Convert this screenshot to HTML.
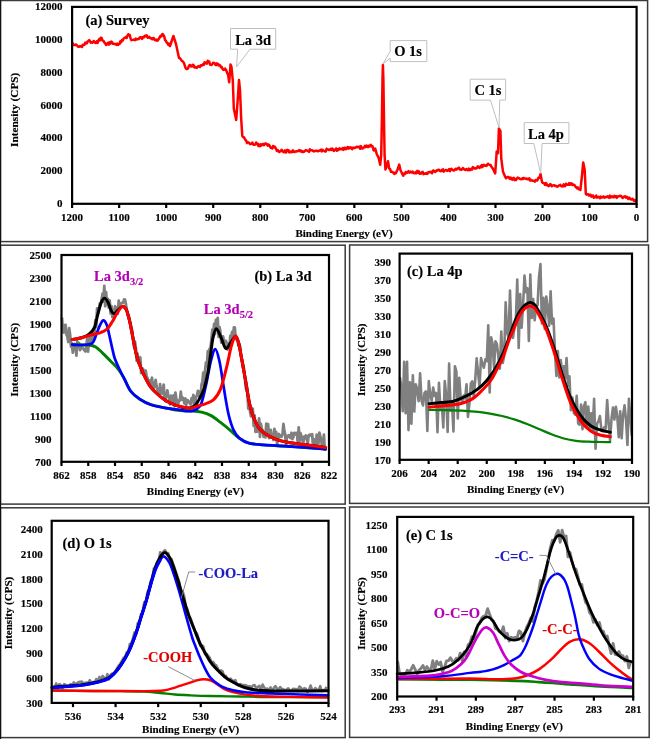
<!DOCTYPE html>
<html><head><meta charset="utf-8"><title>XPS spectra</title>
<style>html,body{margin:0;padding:0;background:#fff;width:650px;height:739px;overflow:hidden}svg{display:block;filter:blur(0.3px)}</style>
</head><body>
<svg width="650" height="739" viewBox="0 0 650 739" font-family="Liberation Serif, serif" font-weight="bold">
<rect width="650" height="739" fill="#fff"/>
<rect x="0.5" y="0.5" width="647.1" height="241.1" fill="none" stroke="#3a3a3a" stroke-width="1.5"/>
<rect x="0.5" y="245.2" width="344.7" height="258.9" fill="none" stroke="#3a3a3a" stroke-width="1.5"/>
<rect x="349.6" y="245" width="298.9" height="258.4" fill="none" stroke="#3a3a3a" stroke-width="1.5"/>
<rect x="0.5" y="507.8" width="344.7" height="229.8" fill="none" stroke="#3a3a3a" stroke-width="1.5"/>
<rect x="349.6" y="507" width="299.6" height="230.4" fill="none" stroke="#3a3a3a" stroke-width="1.5"/>
<line x1="0.5" y1="0" x2="0.5" y2="739" stroke="#111" stroke-width="1.2" />
<text x="62.6" y="207" font-size="11" text-anchor="end" fill="#000" stroke="#000" stroke-width="0.15" >0</text>
<text x="62.6" y="174.18" font-size="11" text-anchor="end" fill="#000" stroke="#000" stroke-width="0.15" >2000</text>
<text x="62.6" y="141.37" font-size="11" text-anchor="end" fill="#000" stroke="#000" stroke-width="0.15" >4000</text>
<text x="62.6" y="108.55" font-size="11" text-anchor="end" fill="#000" stroke="#000" stroke-width="0.15" >6000</text>
<text x="62.6" y="75.73" font-size="11" text-anchor="end" fill="#000" stroke="#000" stroke-width="0.15" >8000</text>
<text x="62.6" y="42.92" font-size="11" text-anchor="end" fill="#000" stroke="#000" stroke-width="0.15" >10000</text>
<text x="62.6" y="10.1" font-size="11" text-anchor="end" fill="#000" stroke="#000" stroke-width="0.15" >12000</text>
<line x1="72.1" y1="203.8" x2="72.1" y2="208" stroke="#000" stroke-width="2.2" />
<text x="72.1" y="220.8" font-size="11" text-anchor="middle" fill="#000" stroke="#000" stroke-width="0.15" >1200</text>
<line x1="119.14" y1="203.8" x2="119.14" y2="208" stroke="#000" stroke-width="2.2" />
<text x="119.14" y="220.8" font-size="11" text-anchor="middle" fill="#000" stroke="#000" stroke-width="0.15" >1100</text>
<line x1="166.18" y1="203.8" x2="166.18" y2="208" stroke="#000" stroke-width="2.2" />
<text x="166.18" y="220.8" font-size="11" text-anchor="middle" fill="#000" stroke="#000" stroke-width="0.15" >1000</text>
<line x1="213.22" y1="203.8" x2="213.22" y2="208" stroke="#000" stroke-width="2.2" />
<text x="213.22" y="220.8" font-size="11" text-anchor="middle" fill="#000" stroke="#000" stroke-width="0.15" >900</text>
<line x1="260.27" y1="203.8" x2="260.27" y2="208" stroke="#000" stroke-width="2.2" />
<text x="260.27" y="220.8" font-size="11" text-anchor="middle" fill="#000" stroke="#000" stroke-width="0.15" >800</text>
<line x1="307.31" y1="203.8" x2="307.31" y2="208" stroke="#000" stroke-width="2.2" />
<text x="307.31" y="220.8" font-size="11" text-anchor="middle" fill="#000" stroke="#000" stroke-width="0.15" >700</text>
<line x1="354.35" y1="203.8" x2="354.35" y2="208" stroke="#000" stroke-width="2.2" />
<text x="354.35" y="220.8" font-size="11" text-anchor="middle" fill="#000" stroke="#000" stroke-width="0.15" >600</text>
<line x1="401.39" y1="203.8" x2="401.39" y2="208" stroke="#000" stroke-width="2.2" />
<text x="401.39" y="220.8" font-size="11" text-anchor="middle" fill="#000" stroke="#000" stroke-width="0.15" >500</text>
<line x1="448.43" y1="203.8" x2="448.43" y2="208" stroke="#000" stroke-width="2.2" />
<text x="448.43" y="220.8" font-size="11" text-anchor="middle" fill="#000" stroke="#000" stroke-width="0.15" >400</text>
<line x1="495.48" y1="203.8" x2="495.48" y2="208" stroke="#000" stroke-width="2.2" />
<text x="495.48" y="220.8" font-size="11" text-anchor="middle" fill="#000" stroke="#000" stroke-width="0.15" >300</text>
<line x1="542.52" y1="203.8" x2="542.52" y2="208" stroke="#000" stroke-width="2.2" />
<text x="542.52" y="220.8" font-size="11" text-anchor="middle" fill="#000" stroke="#000" stroke-width="0.15" >200</text>
<line x1="589.56" y1="203.8" x2="589.56" y2="208" stroke="#000" stroke-width="2.2" />
<text x="589.56" y="220.8" font-size="11" text-anchor="middle" fill="#000" stroke="#000" stroke-width="0.15" >100</text>
<line x1="636.6" y1="203.8" x2="636.6" y2="208" stroke="#000" stroke-width="2.2" />
<text x="636.6" y="220.8" font-size="11" text-anchor="middle" fill="#000" stroke="#000" stroke-width="0.15" >0</text>
<text x="344" y="236.6" font-size="11" text-anchor="middle" fill="#000" stroke="#000" stroke-width="0.15" >Binding Energy (eV)</text>
<text transform="translate(18.2,109.8) rotate(-90)" x="0" y="0" font-size="11.3" text-anchor="middle" fill="#000" stroke="#000" stroke-width="0.15">Intensity (CPS)</text>
<path d="M72,44 L72.83,43.31 L73.67,45.03 L74.5,45.13 L75.33,44.94 L76.17,44.45 L77,45.5 L77.83,46.57 L78.67,46.86 L79.5,46.28 L80.33,46.51 L81.17,46.01 L82,47 L82.8,44.81 L83.6,45.04 L84.4,44.84 L85.2,42.59 L86,43 L86.8,43.42 L87.6,41.45 L88.4,41.05 L89.2,40.12 L90,41 L90.75,42.64 L91.5,42.17 L92.25,42.8 L93,42.32 L93.75,40.95 L94.5,42.02 L95.25,42.74 L96,43 L96.8,41.21 L97.6,42.84 L98.4,40.49 L99.2,39.18 L100,40.32 L100.8,37.66 L101.6,38 L102.48,40.6 L103.36,40.67 L104.24,42.35 L105.12,43.16 L106,45 L106.75,44.58 L107.5,43.37 L108.25,42.58 L109,44.52 L109.75,42.38 L110.5,43.53 L111.25,41.56 L112,42 L112.75,43.69 L113.5,43.85 L114.25,43.84 L115,44.24 L115.75,44.1 L116.5,44.89 L117.25,43.57 L118,45 L118.8,43.93 L119.6,43.92 L120.4,41.16 L121.2,42.18 L122,40 L122.78,40.53 L123.56,38.64 L124.33,37.96 L125.11,37.64 L125.89,36.9 L126.67,38.05 L127.44,35.79 L128.22,34.23 L129,35 L129.75,35.11 L130.5,38.11 L131.25,40.13 L132,40 L132.75,39.86 L133.5,39.73 L134.25,39.77 L135,40.19 L135.75,38.6 L136.5,39.55 L137.25,39.28 L138,39 L138.8,39.08 L139.6,37.59 L140.4,37.3 L141.2,37.53 L142,38.9 L142.8,37.01 L143.6,37.45 L144.4,36.38 L145.2,35.55 L146,36.4 L146.8,35.38 L147.6,37.68 L148.4,37.78 L149.2,36.85 L150,37.91 L150.8,38.09 L151.6,38.92 L152.4,39.28 L153.2,37.94 L154,38.4 L154.8,40.09 L155.6,40.33 L156.4,39.61 L157.2,40.75 L158,40 L158.88,38.77 L159.76,37.25 L160.64,35.69 L161.52,36.25 L162.4,34 L163.3,34.8 L164.2,36.29 L165.1,40.1 L166,41 L166.8,42.77 L167.6,42.95 L168.4,44.94 L169.2,43.75 L170,46 L173.4,36 L176,44 L179,58 L179.75,58.07 L180.5,58.91 L181.25,60.02 L182,61 L182.83,61.41 L183.67,62.46 L184.5,64.55 L185.33,67.45 L186.17,69.02 L187,69 L187.75,68.69 L188.5,66.94 L189.25,65.31 L190,65 L190.75,66.53 L191.5,65.57 L192.25,66.39 L193,64.68 L193.75,65.44 L194.5,67.45 L195.25,67.58 L196,67 L196.79,67.87 L197.57,66.88 L198.36,66.19 L199.15,66.43 L199.94,66.98 L200.73,65.26 L201.51,65.7 L202.3,65.4 L203.08,64.17 L203.85,64.95 L204.62,62.23 L205.4,63 L206.16,63.22 L206.92,63.67 L207.68,60.77 L208.44,62.06 L209.2,61.5 L210,64.6 L210.77,64.74 L211.53,65.05 L212.3,64.04 L213.07,62.85 L213.83,63 L214.6,63 L215.38,64.76 L216.16,65.1 L216.94,63.41 L217.72,63.79 L218.5,65.4 L219.26,64.88 L220.02,65.31 L220.78,67.11 L221.54,66.87 L222.3,68.5 L223.23,69.9 L224.15,69.68 L225.07,68.58 L226,70 L228.2,75.4 L229.2,82.3 L230.5,64.6 L231.5,67 L232.8,80.8 L233.8,108.5 L236.2,120 L238,96 L239,80 L240,90 L241.2,119 L242.3,136 L243.07,136.94 L243.83,137.17 L244.6,138.5 L245.4,139.98 L246.2,140.71 L247,143 L247.75,142.2 L248.5,142.38 L249.25,143.06 L250,144.12 L250.75,143.81 L251.5,143.8 L252.28,142.53 L253.05,144.39 L253.82,144.85 L254.6,144.57 L255.38,144.61 L256.15,142.42 L256.93,143.7 L257.7,143.8 L258.5,146 L259.26,144.5 L260.02,146.18 L260.78,144.25 L261.54,145.47 L262.3,144.6 L263.07,143.91 L263.85,145.15 L264.62,144.08 L265.4,143.32 L266.18,144.29 L266.95,144.07 L267.73,145.72 L268.5,144.6 L269.27,145.06 L270.03,146.68 L270.8,147.7 L271.56,147.62 L272.32,148.52 L273.08,145.92 L273.84,147.1 L274.6,146.6 L275.38,147.6 L276.16,149.22 L276.94,150.85 L277.72,149.99 L278.5,151.5 L279.26,151.92 L280.02,151.29 L280.78,151.25 L281.54,149.72 L282.3,150.8 L283.07,151.75 L283.84,152.28 L284.61,150.6 L285.38,150.57 L286.15,152.53 L286.92,150.12 L287.69,150.1 L288.46,150.17 L289.23,152.31 L290,151.5 L290.76,152.27 L291.52,151.43 L292.28,151.96 L293.04,150.32 L293.8,151.7 L294.6,152.06 L295.4,151.45 L296.2,151.61 L297,151.21 L297.8,151.2 L298.6,150.66 L299.4,150.12 L300.2,151.15 L301,150.58 L301.8,151.82 L302.6,151.2 L303.4,152.01 L304.2,151.66 L305,150.83 L305.8,150.13 L306.6,150.47 L307.4,150.67 L308.2,151 L309,151.84 L309.8,149.3 L310.6,150.32 L311.4,150.3 L312.2,150.28 L313,150.91 L313.8,151.39 L314.6,151.08 L315.4,150.66 L316.2,151.02 L317,150.77 L317.8,151.3 L318.6,150.86 L319.4,150.81 L320.2,150.3 L321,149.56 L321.8,151.41 L322.6,149.9 L323.4,150.51 L324.2,151.07 L325,151.43 L325.8,151.48 L326.6,148.7 L327.4,149.53 L328.2,149.5 L329,150 L329.8,149.64 L330.6,148.9 L331.4,149.99 L332.2,148.6 L333,149.17 L333.8,150.91 L334.6,150.3 L335.4,149.46 L336.2,148.41 L337,150.73 L337.8,149.4 L338.6,149.86 L339.4,148.36 L340.2,148.61 L341,149.36 L341.8,149.36 L342.6,148.08 L343.4,149.9 L344.2,148.03 L345,147.73 L345.8,149.28 L346.6,148.2 L347.4,147.18 L348.2,148.62 L349,147.22 L349.8,148.29 L350.6,147.35 L351.4,147.59 L352.2,149.12 L353,147.74 L353.8,147.61 L354.6,148.07 L355.4,147.7 L356.2,147.05 L357,146.72 L357.8,147.27 L358.6,146.92 L359.4,146.65 L360.2,148.77 L361,146.14 L361.8,148.28 L362.6,148.59 L363.4,147.91 L364.2,147.3 L365.03,145.8 L365.86,146.99 L366.69,145.54 L367.51,146.97 L368.34,147.08 L369.17,145.63 L370,146.2 L370.83,144.82 L371.67,146.32 L372.5,146.2 L373.7,150.5 L375.2,148.6 L376.8,154.2 L378.6,157.8 L380.2,164.8 L381.2,155 L381.9,120 L382.5,80 L382.9,65 L383.4,80 L384,120 L384.6,155 L385.4,169.5 L386.4,167 L388,161.2 L389.2,168.5 L390.1,169.01 L391,171.8 L391.9,171.67 L392.8,172.6 L393.55,172.62 L394.3,174 L395.05,172.69 L395.8,173.2 L397.6,169.5 L399.2,164.6 L400.6,170.5 L403.2,175.7 L404.03,173.44 L404.87,174.05 L405.7,172 L406.62,173.05 L407.55,172.38 L408.47,171.19 L409.4,172.6 L410.2,171.65 L411,172.18 L411.8,172.52 L412.6,171.53 L413.4,173.07 L414.2,173.11 L415,173.27 L415.8,172 L416.57,173.2 L417.33,170.9 L418.1,172.6 L418.87,171.33 L419.63,173.74 L420.4,173.44 L421.17,173.6 L421.93,172.13 L422.7,171.89 L423.47,174.13 L424.23,173.67 L425,173.5 L425.79,173.68 L426.57,173.1 L427.36,173.87 L428.14,172.42 L428.93,172.07 L429.71,172.15 L430.5,171.83 L431.29,172.6 L432.07,173.18 L432.86,170.73 L433.64,170.56 L434.43,171.65 L435.21,171.96 L436,171.3 L436.78,170.34 L437.57,170.47 L438.35,169.79 L439.13,169.64 L439.92,170.83 L440.7,171.26 L441.48,171.09 L442.27,169.61 L443.05,169.37 L443.83,171.59 L444.62,170.4 L445.4,170.2 L446.17,169.94 L446.93,170.73 L447.7,170.84 L448.47,170.27 L449.23,169.02 L450,171.12 L450.77,169.4 L451.53,168.91 L452.3,169.79 L453.07,170.29 L453.83,170.56 L454.6,170.2 L455.53,168.69 L456.47,169.59 L457.4,168.4 L458.2,168.45 L459,167.58 L459.8,169.57 L460.6,169.51 L461.4,169.85 L462.2,169.28 L463,168.05 L463.8,168.9 L464.62,169.68 L465.44,170.03 L466.27,168.99 L467.09,170.04 L467.91,170.22 L468.73,168.59 L469.56,170.14 L470.38,170.12 L471.2,168.9 L472.02,169.52 L472.84,167.13 L473.67,167.89 L474.49,168.42 L475.31,168.2 L476.13,168.42 L476.96,167.91 L477.78,166.35 L478.6,167.1 L479.39,167.99 L480.17,166.57 L480.96,167.23 L481.74,165.02 L482.53,166.92 L483.31,165.37 L484.1,164.9 L484.9,165.67 L485.7,165.57 L486.5,165.97 L487.3,164.51 L488.1,163.73 L488.9,164.64 L489.7,164.9 L490.63,165.03 L491.57,167.08 L492.5,168 L495.2,173.5 L496.7,151.4 L498,153.2 L498.9,128.3 L500.4,131 L501.3,158.8 L503,171.7 L505.4,177.2 L506.16,178.33 L506.92,177.31 L507.69,176.92 L508.45,176.88 L509.21,178.23 L509.98,178.93 L510.74,177.62 L511.5,179.2 L512.26,179.6 L513.03,178.26 L513.79,177.91 L514.56,180.14 L515.32,178.94 L516.09,179.92 L516.85,178.79 L517.61,177.63 L518.38,177.89 L519.14,178.35 L519.91,178.89 L520.67,179.19 L521.44,179.07 L522.2,178.3 L522.98,178.86 L523.76,177.88 L524.55,178.51 L525.33,178.5 L526.11,178.95 L526.89,178.46 L527.67,179.36 L528.45,179.28 L529.24,178.23 L530.02,180.57 L530.8,179.8 L531.61,180.13 L532.42,180.82 L533.24,180.72 L534.05,180.8 L534.86,181.62 L535.67,179.98 L536.49,180.11 L537.3,180.5 L538.4,177.71 L539.5,177.7 L540.5,174 L542,182 L542.75,182.86 L543.5,183.03 L544.25,183.41 L545,184.99 L545.75,183.15 L546.5,183.64 L547.25,185.46 L548,185.2 L548.77,186.11 L549.54,185.22 L550.31,184.06 L551.09,184.98 L551.86,186.29 L552.63,185.41 L553.4,185.34 L554.17,185.18 L554.94,185.88 L555.71,185.83 L556.49,186.13 L557.26,186.65 L558.03,186.37 L558.8,185.7 L559.59,185.27 L560.38,184.84 L561.17,186.24 L561.96,186.19 L562.75,186.49 L563.55,184.37 L564.34,186.1 L565.13,186.14 L565.92,183.78 L566.71,184.34 L567.5,184.8 L568.3,184.85 L569.1,183.16 L569.9,184.75 L570.7,183.5 L571.46,183.34 L572.21,185.01 L572.97,184.43 L573.73,184.71 L574.49,185.18 L575.24,186.49 L576,187 L576.88,188.2 L577.76,187.41 L578.64,189.32 L579.52,188.94 L580.4,190 L582.1,174.5 L583.2,162.6 L584.7,170 L585.8,193.8 L586.6,194.67 L587.4,194.33 L588.2,194.29 L589,195.6 L589.81,194.77 L590.62,194.71 L591.44,196.67 L592.25,196.06 L593.06,195.42 L593.88,197.72 L594.69,197.26 L595.5,197 L596.26,195.66 L597.02,197.63 L597.78,197.27 L598.54,196.84 L599.29,197 L600.05,198.29 L600.81,196.65 L601.57,197.38 L602.33,197.38 L603.09,196.62 L603.85,196.57 L604.61,197.71 L605.36,197.38 L606.12,196.88 L606.88,197.04 L607.64,196.23 L608.4,197 L609.15,197.81 L609.91,195.66 L610.66,197.4 L611.42,196.87 L612.17,196.22 L612.93,197.24 L613.68,197.23 L614.44,195.84 L615.19,196.97 L615.95,196.06 L616.71,197.84 L617.46,196.52 L618.22,196.52 L618.97,196.2 L619.73,195.73 L620.48,196.12 L621.24,196.02 L621.99,197.35 L622.75,197.97 L623.5,197 L624.31,196.42 L625.12,196.31 L625.94,197.7 L626.75,196.72 L627.56,197.73 L628.38,198.93 L629.19,197.57 L630,198.6 L630.8,199.58 L631.6,199.56 L632.4,198.71 L633.2,199.58 L634,201 L634.8,200.02 L635.6,200.75 L636.4,202" fill="none" stroke="#ff0000" stroke-width="2.5" stroke-linejoin="round"/>
<path d="M230.5,28.5 L275.7,28.5 L275.7,49.2 L250,49.2 L236.5,66.9 L237.7,49.2 L230.5,49.2 Z" fill="#fff" stroke="#c0c0c0" stroke-width="1"/>
<text x="235.2" y="44.6" font-size="14.5" text-anchor="start" fill="#000" stroke="#000" stroke-width="0.15" >La 3d</text>
<path d="M390.2,40.6 L426.8,40.6 L426.8,61.6 L390.2,61.6 L390.2,58.2 L382.8,64.1 L390.2,51.5 Z" fill="#fff" stroke="#c0c0c0" stroke-width="1"/>
<text x="394.2" y="55.8" font-size="14.5" text-anchor="start" fill="#000" stroke="#000" stroke-width="0.15" >O 1s</text>
<path d="M470.2,79.2 L505.6,79.2 L505.6,100.1 L499.7,100.1 L499.1,128.1 L490.5,100.1 L470.2,100.1 Z" fill="#fff" stroke="#c0c0c0" stroke-width="1"/>
<text x="474.4" y="94.9" font-size="14.5" text-anchor="start" fill="#000" stroke="#000" stroke-width="0.15" >C 1s</text>
<path d="M524.2,122.6 L568.9,122.6 L568.9,143.5 L542.1,143.5 L540.7,173.4 L533.8,143.5 L524.2,143.5 Z" fill="#fff" stroke="#c0c0c0" stroke-width="1"/>
<text x="528" y="138.7" font-size="14.5" text-anchor="start" fill="#000" stroke="#000" stroke-width="0.15" >La 4p</text>
<text x="85.5" y="24.8" font-size="14.5" text-anchor="start" fill="#000" stroke="#000" stroke-width="0.15" >(a) Survey</text>
<rect x="72.1" y="6.9" width="564.5" height="196.9" fill="none" stroke="#000" stroke-width="2.2"/>
<text x="51.4" y="465.6" font-size="11" text-anchor="end" fill="#000" stroke="#000" stroke-width="0.15" >700</text>
<text x="51.4" y="442.62" font-size="11" text-anchor="end" fill="#000" stroke="#000" stroke-width="0.15" >900</text>
<text x="51.4" y="419.64" font-size="11" text-anchor="end" fill="#000" stroke="#000" stroke-width="0.15" >1100</text>
<text x="51.4" y="396.67" font-size="11" text-anchor="end" fill="#000" stroke="#000" stroke-width="0.15" >1300</text>
<text x="51.4" y="373.69" font-size="11" text-anchor="end" fill="#000" stroke="#000" stroke-width="0.15" >1500</text>
<text x="51.4" y="350.71" font-size="11" text-anchor="end" fill="#000" stroke="#000" stroke-width="0.15" >1700</text>
<text x="51.4" y="327.73" font-size="11" text-anchor="end" fill="#000" stroke="#000" stroke-width="0.15" >1900</text>
<text x="51.4" y="304.76" font-size="11" text-anchor="end" fill="#000" stroke="#000" stroke-width="0.15" >2100</text>
<text x="51.4" y="281.78" font-size="11" text-anchor="end" fill="#000" stroke="#000" stroke-width="0.15" >2300</text>
<text x="51.4" y="258.8" font-size="11" text-anchor="end" fill="#000" stroke="#000" stroke-width="0.15" >2500</text>
<line x1="61.5" y1="461.8" x2="61.5" y2="466" stroke="#000" stroke-width="2.2" />
<text x="61.5" y="478.8" font-size="11" text-anchor="middle" fill="#000" stroke="#000" stroke-width="0.15" >862</text>
<line x1="88.25" y1="461.8" x2="88.25" y2="466" stroke="#000" stroke-width="2.2" />
<text x="88.25" y="478.8" font-size="11" text-anchor="middle" fill="#000" stroke="#000" stroke-width="0.15" >858</text>
<line x1="115" y1="461.8" x2="115" y2="466" stroke="#000" stroke-width="2.2" />
<text x="115" y="478.8" font-size="11" text-anchor="middle" fill="#000" stroke="#000" stroke-width="0.15" >854</text>
<line x1="141.75" y1="461.8" x2="141.75" y2="466" stroke="#000" stroke-width="2.2" />
<text x="141.75" y="478.8" font-size="11" text-anchor="middle" fill="#000" stroke="#000" stroke-width="0.15" >850</text>
<line x1="168.5" y1="461.8" x2="168.5" y2="466" stroke="#000" stroke-width="2.2" />
<text x="168.5" y="478.8" font-size="11" text-anchor="middle" fill="#000" stroke="#000" stroke-width="0.15" >846</text>
<line x1="195.25" y1="461.8" x2="195.25" y2="466" stroke="#000" stroke-width="2.2" />
<text x="195.25" y="478.8" font-size="11" text-anchor="middle" fill="#000" stroke="#000" stroke-width="0.15" >842</text>
<line x1="222" y1="461.8" x2="222" y2="466" stroke="#000" stroke-width="2.2" />
<text x="222" y="478.8" font-size="11" text-anchor="middle" fill="#000" stroke="#000" stroke-width="0.15" >838</text>
<line x1="248.75" y1="461.8" x2="248.75" y2="466" stroke="#000" stroke-width="2.2" />
<text x="248.75" y="478.8" font-size="11" text-anchor="middle" fill="#000" stroke="#000" stroke-width="0.15" >834</text>
<line x1="275.5" y1="461.8" x2="275.5" y2="466" stroke="#000" stroke-width="2.2" />
<text x="275.5" y="478.8" font-size="11" text-anchor="middle" fill="#000" stroke="#000" stroke-width="0.15" >830</text>
<line x1="302.25" y1="461.8" x2="302.25" y2="466" stroke="#000" stroke-width="2.2" />
<text x="302.25" y="478.8" font-size="11" text-anchor="middle" fill="#000" stroke="#000" stroke-width="0.15" >826</text>
<line x1="329" y1="461.8" x2="329" y2="466" stroke="#000" stroke-width="2.2" />
<text x="329" y="478.8" font-size="11" text-anchor="middle" fill="#000" stroke="#000" stroke-width="0.15" >822</text>
<text x="195.4" y="494.6" font-size="11" text-anchor="middle" fill="#000" stroke="#000" stroke-width="0.15" >Binding Energy (eV)</text>
<text transform="translate(18.2,359.7) rotate(-90)" x="0" y="0" font-size="11.2" text-anchor="middle" fill="#000" stroke="#000" stroke-width="0.15">Intensity (CPS)</text>
<path d="M62,317.55 L62.9,331.48 L63.8,332.49 L64.7,325.08 L65.6,324.83 L66.5,334.75 L67.4,336.75 L68.3,341.99 L69.2,328.2 L70.1,334.61 L71,346.62 L71.9,343.11 L72.8,352.7 L73.7,347.53 L74.6,343.9 L75.5,345.3 L76.4,355.69 L77.3,341.47 L78.2,345.82 L79.1,343.06 L80,350.11 L80.9,348.04 L81.8,346.5 L82.7,348.27 L83.6,349.03 L84.5,350.43 L85.4,351.42 L86.3,346.37 L87.2,338.03 L88.1,351.63 L89,335.63 L89.9,345.43 L90.8,333.96 L91.7,342.51 L92.6,332.74 L93.5,336.68 L94.4,338.87 L95.3,320.03 L96.2,326.88 L97.1,308.45 L98,313.79 L98.9,310.71 L99.8,303.32 L100.7,304.18 L101.6,299.6 L102.5,293.73 L103.4,301.6 L104.3,286 L105.2,306.28 L106.1,292.09 L107,304.77 L107.9,298.98 L108.8,307.7 L109.7,300.33 L110.6,313.52 L111.5,306.06 L112.4,317.09 L113.3,311.47 L114.2,311.4 L115.1,306.26 L116,313.78 L116.9,307.95 L117.8,313.76 L118.7,300.77 L119.6,308.21 L120.5,303.99 L121.4,303.28 L122.3,302.57 L123.2,302.66 L124.1,299.46 L125,299.64 L125.9,304.13 L126.8,309.63 L127.7,315.4 L128.6,315.35 L129.5,320.3 L130.4,322.53 L131.3,327.37 L132.2,330.3 L133.1,338.62 L134,346.73 L134.9,341.41 L135.8,347.58 L136.7,360.81 L137.6,353.65 L138.5,363.19 L139.4,362.75 L140.3,357.48 L141.2,373.2 L142.1,370.36 L143,368.69 L143.9,374.18 L144.8,371.92 L145.7,370.57 L146.6,376.28 L147.5,378.2 L148.4,382.43 L149.3,380.93 L150.2,380.34 L151.1,387.57 L152,377.62 L152.9,389.09 L153.8,387.78 L154.7,383.61 L155.6,379.97 L156.5,386.11 L157.4,389.85 L158.3,390.76 L159.2,395.68 L160.1,384.09 L161,393.23 L161.9,393.56 L162.8,390.82 L163.7,384.62 L164.6,399.99 L165.5,401.18 L166.4,395.95 L167.3,390.36 L168.2,395.11 L169.1,396.76 L170,404.32 L170.9,395.71 L171.8,397.89 L172.7,403.75 L173.6,395.3 L174.5,406.28 L175.4,392.54 L176.3,398.83 L177.2,402 L178.1,404.15 L179,400.41 L179.9,400.48 L180.8,391.75 L181.7,399.73 L182.6,397.64 L183.5,398.99 L184.4,403.55 L185.3,398.38 L186.2,405.22 L187.1,400.12 L188,400.38 L188.9,402.35 L189.8,403.02 L190.7,404.52 L191.6,398.19 L192.5,401.13 L193.4,394.85 L194.3,408.17 L195.2,402.35 L196.1,396.49 L197,395.69 L197.9,390.83 L198.8,396.14 L199.7,391.77 L200.6,397.56 L201.5,384.73 L202.4,381.51 L203.3,372.68 L204.2,385.26 L205.1,370.54 L206,362.44 L206.9,366.46 L207.8,351.21 L208.7,362.61 L209.6,348.57 L210.5,348.39 L211.4,339.66 L212.3,329.76 L213.2,336.77 L214.1,323.84 L215,334.13 L215.9,319.93 L216.8,328.34 L217.7,318 L218.6,336.81 L219.5,327.05 L220.4,331.76 L221.3,342.67 L222.2,341.11 L223.1,336.41 L224,341.68 L224.9,341.77 L225.8,340.81 L226.7,343.37 L227.6,349.61 L228.5,343.31 L229.4,348.85 L230.3,335.8 L231.2,338.3 L232.1,331.86 L233,335.55 L233.9,327.38 L234.8,327.48 L235.7,338.56 L236.6,339.76 L237.5,339.71 L238.4,345.59 L239.3,343.68 L240.2,346.68 L241.1,357.13 L242,359.95 L242.9,363.76 L243.8,367.73 L244.7,374.9 L245.6,386.56 L246.5,390.66 L247.4,393.35 L248.3,408.69 L249.2,402.58 L250.1,411.86 L251,416.37 L251.9,408.26 L252.8,408.78 L253.7,425.9 L254.6,415.4 L255.5,431.92 L256.4,423.31 L257.3,431.65 L258.2,429.12 L259.1,418.32 L260,436.86 L260.9,423.87 L261.8,429.09 L262.7,429.94 L263.6,436.76 L264.5,435.75 L265.4,437.37 L266.3,423.62 L267.2,434.25 L268.1,424.12 L269,438.03 L269.9,436.14 L270.8,429.97 L271.7,437.49 L272.6,434.94 L273.5,439.97 L274.4,428.92 L275.3,432.87 L276.2,431.94 L277.1,445.1 L278,437.36 L278.9,434.02 L279.8,437.12 L280.7,435.59 L281.6,436.72 L282.5,434.33 L283.4,424 L284.3,429.9 L285.2,434.85 L286.1,445.04 L287,435.85 L287.9,436.75 L288.8,435.11 L289.7,437.24 L290.6,438.11 L291.5,432.77 L292.4,439.08 L293.3,437.2 L294.2,432.87 L295.1,434.28 L296,432.81 L296.9,433.11 L297.8,443.2 L298.7,427.42 L299.6,441.06 L300.5,433.16 L301.4,436.08 L302.3,438.97 L303.2,443.5 L304.1,436.74 L305,438.25 L305.9,435.55 L306.8,439.25 L307.7,443.58 L308.6,435.59 L309.5,434.76 L310.4,434.69 L311.3,435.75 L312.2,434.14 L313.1,447.75 L314,439.36 L314.9,439.46 L315.8,448.39 L316.7,434.59 L317.6,446.94 L318.5,443.13 L319.4,432.66 L320.3,436.58 L321.2,438.77 L322.1,447.79 L323,446.97 L323.9,434.6 L324.8,451" fill="none" stroke="#808080" stroke-width="2.8" stroke-linejoin="round"/>
<path d="M72.2,344.7 C75.02,344.75 85.17,344.62 89.1,345 C93.03,345.38 93.55,345.65 95.8,347 C98.05,348.35 100.33,350.95 102.6,353.1 C104.87,355.25 107.15,357.65 109.4,359.9 C111.65,362.15 114.25,364.5 116.1,366.6 C117.95,368.7 119.13,370.47 120.5,372.5 C121.87,374.53 122.58,375.67 124.3,378.8 C126.02,381.93 128.22,387.9 130.8,391.3 C133.38,394.7 136.45,396.97 139.8,399.2 C143.15,401.43 146.45,403.22 150.9,404.7 C155.35,406.18 161.65,407.12 166.5,408.1 C171.35,409.08 175.77,410.12 180,410.6 C184.23,411.08 188.32,410.73 191.9,411 C195.48,411.27 198.32,411.43 201.5,412.2 C204.68,412.97 207.83,413.9 211,415.6 C214.17,417.3 217.33,419.98 220.5,422.4 C223.67,424.82 226.82,427.43 230,430.1 C233.18,432.77 236.42,436.22 239.6,438.4 C242.78,440.58 245.12,442.12 249.1,443.2 C253.08,444.28 257.13,444.38 263.5,444.9 C269.87,445.42 279.37,445.78 287.3,446.3 C295.23,446.82 304.72,447.53 311.1,448 C317.48,448.47 323.18,448.92 325.6,449.1" fill="none" stroke="#008000" stroke-width="2.9" stroke-linejoin="round" stroke-linecap="round"/>
<path d="M72.2,344.7 C73.88,344.75 79.48,345.07 82.3,345 C85.12,344.93 87.3,344.75 89.1,344.3 C90.9,343.85 91.87,344 93.1,342.3 C94.33,340.6 95.37,336.93 96.5,334.1 C97.63,331.27 98.77,327.6 99.9,325.3 C101.03,323 102.17,320.4 103.3,320.3 C104.43,320.2 105.68,322.17 106.7,324.7 C107.72,327.23 108.5,331.67 109.4,335.5 C110.3,339.33 111.2,343.87 112.1,347.7 C113,351.53 113.67,355.12 114.8,358.5 C115.93,361.88 117.32,364.62 118.9,368 C120.48,371.38 122.32,374.92 124.3,378.8 C126.28,382.68 128.22,387.9 130.8,391.3 C133.38,394.7 136.45,396.97 139.8,399.2 C143.15,401.43 146.45,403.22 150.9,404.7 C155.35,406.18 161.67,407.23 166.5,408.1 C171.33,408.97 176.45,409.38 179.9,409.9 C183.35,410.42 184.93,411.08 187.2,411.2 C189.47,411.32 191.78,411.05 193.5,410.6 C195.22,410.15 196.17,409.77 197.5,408.5 C198.83,407.23 200.05,407.02 201.5,403 C202.95,398.98 204.62,391.48 206.2,384.4 C207.78,377.32 209.48,366.38 211,360.5 C212.52,354.62 213.92,349.1 215.3,349.1 C216.68,349.1 218.03,355.02 219.3,360.5 C220.57,365.98 221.82,375.42 222.9,382 C223.98,388.58 224.8,394.37 225.8,400 C226.8,405.63 227.6,410.78 228.9,415.8 C230.2,420.82 231.82,426.33 233.6,430.1 C235.38,433.87 237.02,436.22 239.6,438.4 C242.18,440.58 245.12,442.12 249.1,443.2 C253.08,444.28 257.13,444.38 263.5,444.9 C269.87,445.42 279.37,445.78 287.3,446.3 C295.23,446.82 304.72,447.53 311.1,448 C317.48,448.47 323.18,448.92 325.6,449.1" fill="none" stroke="#0000ff" stroke-width="2.7" stroke-linejoin="round" stroke-linecap="round"/>
<path d="M72.2,339.6 C73.88,339.25 79.48,338.42 82.3,337.5 C85.12,336.58 87.07,335.78 89.1,334.1 C91.13,332.42 93.03,330.78 94.5,327.4 C95.97,324.02 96.77,317.98 97.9,313.8 C99.03,309.62 100.18,304.88 101.3,302.3 C102.42,299.72 103.48,298.3 104.6,298.3 C105.72,298.3 106.87,300.17 108,302.3 C109.13,304.43 110.38,309.18 111.4,311.1 C112.42,313.02 113.08,313.9 114.1,313.8 C115.12,313.7 116.12,311.73 117.5,310.5 C118.88,309.27 120.95,306.55 122.4,306.4 C123.85,306.25 125.12,307.67 126.2,309.6 C127.28,311.53 128.12,315.03 128.9,318 C129.68,320.97 130.22,324.03 130.9,327.4 C131.58,330.77 132.32,334.68 133,338.2 C133.68,341.72 134.33,345.37 135,348.5 C135.67,351.63 136.1,353.98 137,357 C137.9,360.02 139.05,363.2 140.4,366.6 C141.75,370 143.42,374.02 145.1,377.4 C146.78,380.78 148.47,384.13 150.5,386.9 C152.53,389.67 154.78,391.73 157.3,394 C159.82,396.27 162.78,398.72 165.6,400.5 C168.42,402.28 171.47,403.58 174.2,404.7 C176.93,405.82 179.37,406.65 182,407.2 C184.63,407.75 187.83,408.28 190,408 C192.17,407.72 193.65,406.65 195,405.5 C196.35,404.35 196.68,403.63 198.1,401.1 C199.52,398.57 201.92,394.82 203.5,390.3 C205.08,385.78 206.47,379.63 207.6,374 C208.73,368.37 209.4,362.57 210.3,356.5 C211.2,350.43 211.98,342.22 213,337.6 C214.02,332.98 215.05,328.8 216.4,328.8 C217.75,328.8 219.53,334.33 221.1,337.6 C222.67,340.87 224.23,347.5 225.8,348.4 C227.37,349.3 228.93,345.02 230.5,343 C232.07,340.98 233.97,336.72 235.2,336.3 C236.43,335.88 237.08,338.17 237.9,340.5 C238.72,342.83 239.17,345.52 240.1,350.3 C241.03,355.08 242.48,363.57 243.5,369.2 C244.52,374.83 245.3,378.92 246.2,384.1 C247.1,389.28 247.88,395.35 248.9,400.3 C249.92,405.25 250.72,409.3 252.3,413.8 C253.88,418.3 256.12,423.88 258.4,427.3 C260.68,430.72 263.23,432.38 266,434.3 C268.77,436.22 271.45,437.48 275,438.8 C278.55,440.12 281.28,441.07 287.3,442.2 C293.32,443.33 304.72,444.72 311.1,445.6 C317.48,446.48 323.18,447.18 325.6,447.5" fill="none" stroke="#000000" stroke-width="3.0" stroke-linejoin="round" stroke-linecap="round"/>
<path d="M72.2,339.6 C73.88,339.25 79.03,338.3 82.3,337.5 C85.57,336.7 88.87,335.58 91.8,334.8 C94.73,334.02 97.42,333.7 99.9,332.8 C102.38,331.9 104.67,331.2 106.7,329.4 C108.73,327.6 110.3,324.82 112.1,322 C113.9,319.18 115.75,315.1 117.5,312.5 C119.25,309.9 121.15,306.88 122.6,306.4 C124.05,305.92 125.15,307.67 126.2,309.6 C127.25,311.53 128.12,315.03 128.9,318 C129.68,320.97 130.22,324.03 130.9,327.4 C131.58,330.77 132.32,334.68 133,338.2 C133.68,341.72 134.33,345.37 135,348.5 C135.67,351.63 136.1,353.98 137,357 C137.9,360.02 139.05,363.2 140.4,366.6 C141.75,370 143.42,374.02 145.1,377.4 C146.78,380.78 148.47,384.13 150.5,386.9 C152.53,389.67 154.78,391.73 157.3,394 C159.82,396.27 162.78,398.72 165.6,400.5 C168.42,402.28 171.12,403.57 174.2,404.7 C177.28,405.83 181.22,406.75 184.1,407.3 C186.98,407.85 189.05,408.28 191.5,408 C193.95,407.72 196.75,406.22 198.8,405.6 C200.85,404.98 201.37,405.25 203.8,404.3 C206.23,403.35 210.62,402.43 213.4,399.9 C216.18,397.37 218.32,394.47 220.5,389.1 C222.68,383.73 224.7,374.85 226.5,367.7 C228.3,360.55 229.85,351.43 231.3,346.2 C232.75,340.97 234.1,337.25 235.2,336.3 C236.3,335.35 237.08,338.17 237.9,340.5 C238.72,342.83 239.17,345.52 240.1,350.3 C241.03,355.08 242.48,363.57 243.5,369.2 C244.52,374.83 245.3,378.92 246.2,384.1 C247.1,389.28 247.88,395.35 248.9,400.3 C249.92,405.25 250.72,409.3 252.3,413.8 C253.88,418.3 256.12,423.88 258.4,427.3 C260.68,430.72 263.23,432.38 266,434.3 C268.77,436.22 271.45,437.48 275,438.8 C278.55,440.12 281.28,441.07 287.3,442.2 C293.32,443.33 304.72,444.72 311.1,445.6 C317.48,446.48 323.18,447.18 325.6,447.5" fill="none" stroke="#ff0000" stroke-width="3.0" stroke-linejoin="round" stroke-linecap="round"/>
<text x="254.4" y="280.5" font-size="14.5" text-anchor="start" fill="#000" stroke="#000" stroke-width="0.15" >(b) La 3d</text>
<text x="94" y="281.1" font-size="14.5" text-anchor="start" fill="#b400b4" stroke="#b400b4" stroke-width="0.15" >La 3d<tspan font-size="10.5" dy="3.5">3/2</tspan></text>
<text x="203.8" y="314.3" font-size="14.5" text-anchor="start" fill="#b400b4" stroke="#b400b4" stroke-width="0.15" >La 3d<tspan font-size="10.5" dy="3.5">5/2</tspan></text>
<rect x="61.5" y="255" width="267.5" height="206.8" fill="none" stroke="#000" stroke-width="2.2"/>
<text x="391" y="463.6" font-size="11" text-anchor="end" fill="#000" stroke="#000" stroke-width="0.15" >170</text>
<text x="391" y="445.67" font-size="11" text-anchor="end" fill="#000" stroke="#000" stroke-width="0.15" >190</text>
<text x="391" y="427.74" font-size="11" text-anchor="end" fill="#000" stroke="#000" stroke-width="0.15" >210</text>
<text x="391" y="409.81" font-size="11" text-anchor="end" fill="#000" stroke="#000" stroke-width="0.15" >230</text>
<text x="391" y="391.88" font-size="11" text-anchor="end" fill="#000" stroke="#000" stroke-width="0.15" >250</text>
<text x="391" y="373.95" font-size="11" text-anchor="end" fill="#000" stroke="#000" stroke-width="0.15" >270</text>
<text x="391" y="356.02" font-size="11" text-anchor="end" fill="#000" stroke="#000" stroke-width="0.15" >290</text>
<text x="391" y="338.09" font-size="11" text-anchor="end" fill="#000" stroke="#000" stroke-width="0.15" >310</text>
<text x="391" y="320.16" font-size="11" text-anchor="end" fill="#000" stroke="#000" stroke-width="0.15" >330</text>
<text x="391" y="302.23" font-size="11" text-anchor="end" fill="#000" stroke="#000" stroke-width="0.15" >350</text>
<text x="391" y="284.3" font-size="11" text-anchor="end" fill="#000" stroke="#000" stroke-width="0.15" >370</text>
<text x="391" y="266.37" font-size="11" text-anchor="end" fill="#000" stroke="#000" stroke-width="0.15" >390</text>
<line x1="399.6" y1="459.8" x2="399.6" y2="464" stroke="#000" stroke-width="2.2" />
<text x="399.6" y="477.1" font-size="11" text-anchor="middle" fill="#000" stroke="#000" stroke-width="0.15" >206</text>
<line x1="428.65" y1="459.8" x2="428.65" y2="464" stroke="#000" stroke-width="2.2" />
<text x="428.65" y="477.1" font-size="11" text-anchor="middle" fill="#000" stroke="#000" stroke-width="0.15" >204</text>
<line x1="457.7" y1="459.8" x2="457.7" y2="464" stroke="#000" stroke-width="2.2" />
<text x="457.7" y="477.1" font-size="11" text-anchor="middle" fill="#000" stroke="#000" stroke-width="0.15" >202</text>
<line x1="486.75" y1="459.8" x2="486.75" y2="464" stroke="#000" stroke-width="2.2" />
<text x="486.75" y="477.1" font-size="11" text-anchor="middle" fill="#000" stroke="#000" stroke-width="0.15" >200</text>
<line x1="515.8" y1="459.8" x2="515.8" y2="464" stroke="#000" stroke-width="2.2" />
<text x="515.8" y="477.1" font-size="11" text-anchor="middle" fill="#000" stroke="#000" stroke-width="0.15" >198</text>
<line x1="544.85" y1="459.8" x2="544.85" y2="464" stroke="#000" stroke-width="2.2" />
<text x="544.85" y="477.1" font-size="11" text-anchor="middle" fill="#000" stroke="#000" stroke-width="0.15" >196</text>
<line x1="573.9" y1="459.8" x2="573.9" y2="464" stroke="#000" stroke-width="2.2" />
<text x="573.9" y="477.1" font-size="11" text-anchor="middle" fill="#000" stroke="#000" stroke-width="0.15" >194</text>
<line x1="602.95" y1="459.8" x2="602.95" y2="464" stroke="#000" stroke-width="2.2" />
<text x="602.95" y="477.1" font-size="11" text-anchor="middle" fill="#000" stroke="#000" stroke-width="0.15" >192</text>
<line x1="632" y1="459.8" x2="632" y2="464" stroke="#000" stroke-width="2.2" />
<text x="632" y="477.1" font-size="11" text-anchor="middle" fill="#000" stroke="#000" stroke-width="0.15" >190</text>
<text x="515.6" y="493.4" font-size="11" text-anchor="middle" fill="#000" stroke="#000" stroke-width="0.15" >Binding Energy (eV)</text>
<text transform="translate(364.6,359.8) rotate(-90)" x="0" y="0" font-size="11.0" text-anchor="middle" fill="#000" stroke="#000" stroke-width="0.15">Intensity (CPS)</text>
<path d="M399.8,377.05 L401.25,386.06 L402.7,411.19 L404.15,361.74 L405.6,413.29 L407.05,361.69 L408.5,430.08 L409.95,382.23 L411.4,423.79 L412.85,375.18 L414.3,411.56 L415.75,384.21 L417.2,389.28 L418.65,401.26 L420.1,373.4 L421.55,400.57 L423,405.41 L424.45,393.18 L425.9,391.41 L427.35,430.95 L428.8,381.01 L430.25,394.9 L431.7,400.93 L433.15,387.52 L434.6,396.01 L436.05,392.96 L437.5,432.13 L438.95,382.71 L440.4,407.69 L441.85,404.46 L443.3,427.46 L444.75,381.02 L446.2,395.39 L447.65,431.94 L449.1,363.43 L450.55,410.44 L452,402.26 L453.45,431.39 L454.9,366.2 L456.35,371.6 L457.8,418.47 L459.25,377.92 L460.7,397.8 L462.15,401.88 L463.6,395.49 L465.05,398.53 L466.5,384.38 L467.95,416.87 L469.4,403.75 L470.85,383.47 L472.3,381.25 L473.75,396.47 L475.2,380.15 L476.65,358.34 L478.1,373.22 L479.55,386.74 L481,358.01 L482.45,364.07 L483.9,367.66 L485.35,359.35 L486.8,361.21 L488.25,325.19 L489.7,392.56 L491.15,337.31 L492.6,343.72 L494.05,367.84 L495.5,341.19 L496.95,344.36 L498.4,356.98 L499.85,368.74 L501.3,331.51 L502.75,362.88 L504.2,355.68 L505.65,302.28 L507.1,332.08 L508.55,338.03 L510,290.49 L511.45,333.57 L512.9,337.8 L514.35,328.6 L515.8,321.65 L517.25,279.51 L518.7,347.92 L520.15,294.06 L521.6,327.67 L523.05,305.21 L524.5,275.54 L525.95,292.21 L527.4,288.22 L528.85,340.93 L530.3,274.53 L531.75,317.99 L533.2,299 L534.65,320.27 L536.1,306.49 L537.55,305.17 L539,277.14 L540.45,264.1 L541.9,323.53 L543.35,297.86 L544.8,329.06 L546.25,296.48 L547.7,307.35 L549.15,325.58 L550.6,291.18 L552.05,323.66 L553.5,318.52 L554.95,351.57 L556.4,375.85 L557.85,351.1 L559.3,377.4 L560.75,360.17 L562.2,373.41 L563.65,366.3 L565.1,378.43 L566.55,358.15 L568,385.7 L569.45,376.31 L570.9,410.22 L572.35,397.48 L573.8,412.93 L575.25,414.65 L576.7,395.89 L578.15,423.54 L579.6,424.78 L581.05,404.47 L582.5,429.18 L583.95,406.17 L585.4,402.14 L586.85,426.28 L588.3,406.48 L589.75,427.99 L591.2,413.23 L592.65,430.28 L594.1,398.69 L595.55,448.65 L597,423.57 L598.45,421.02 L599.9,416.1 L601.35,429.18 L602.8,431.16 L604.25,427.24 L605.7,428.5 L607.15,400.06 L608.6,422.19 L610.05,440.53 L611.5,418.97 L612.95,407.61 L614.4,419.58 L615.85,406.72 L617.3,416.75 L618.75,437.19 L620.2,411.22 L621.65,438.28 L623.1,414.92 L624.55,405.38 L626,419.54 L627.45,444.98 L628.9,398.88 L630.35,417.35 L631.8,435.87" fill="none" stroke="#808080" stroke-width="2.6" stroke-linejoin="round"/>
<path d="M429.1,410 C432.08,410.03 441.02,410.07 447,410.2 C452.98,410.33 459.83,410.52 465,410.8 C470.17,411.08 473.83,411.43 478,411.9 C482.17,412.37 486,412.92 490,413.6 C494,414.28 497.83,415 502,416 C506.17,417 510.83,418.27 515,419.6 C519.17,420.93 523,422.43 527,424 C531,425.57 534.92,427.28 539,429 C543.08,430.72 547.37,432.72 551.5,434.3 C555.63,435.88 559.72,437.42 563.8,438.5 C567.88,439.58 571.88,440.27 576,440.8 C580.12,441.33 584.67,441.5 588.5,441.7 C592.33,441.9 595.37,441.93 599,442 C602.63,442.07 608.42,442.08 610.3,442.1" fill="none" stroke="#008000" stroke-width="2.2" stroke-linejoin="round" stroke-linecap="round"/>
<path d="M429.1,403.7 C431.23,403.5 437.83,402.92 441.9,402.5 C445.97,402.08 450.48,401.8 453.5,401.2 C456.52,400.6 456.87,400.3 460,398.9 C463.13,397.5 468.6,395.05 472.3,392.8 C476,390.55 479.12,388.28 482.2,385.4 C485.28,382.52 488.35,378.78 490.8,375.5 C493.25,372.22 494.85,369.38 496.9,365.7 C498.95,362.02 501.05,358.12 503.1,353.4 C505.15,348.68 507.47,342.13 509.2,337.4 C510.93,332.67 512.03,328.82 513.5,325 C514.97,321.18 516.53,317.33 518,314.5 C519.47,311.67 520.88,309.75 522.3,308 C523.72,306.25 525.15,304.9 526.5,304 C527.85,303.1 529.07,302.52 530.4,302.6 C531.73,302.68 533.22,303.22 534.5,304.5 C535.78,305.78 536.13,306.62 538.1,310.3 C540.07,313.98 543.58,320.17 546.3,326.6 C549.02,333.03 551.7,340.78 554.4,348.9 C557.1,357.02 559.8,367.17 562.5,375.3 C565.2,383.43 567.55,390.92 570.6,397.7 C573.65,404.48 577.4,411.27 580.8,416 C584.2,420.73 587.62,423.73 591,426.1 C594.38,428.47 597.88,429.18 601.1,430.2 C604.32,431.22 608.77,431.87 610.3,432.2" fill="none" stroke="#000000" stroke-width="3.0" stroke-linejoin="round" stroke-linecap="round"/>
<path d="M429.1,407.2 C431.23,407 437.83,406.4 441.9,406 C445.97,405.6 450.48,405.17 453.5,404.8 C456.52,404.43 456.87,404.78 460,403.8 C463.13,402.82 468.6,401.15 472.3,398.9 C476,396.65 479.12,393.37 482.2,390.3 C485.28,387.23 488.35,383.98 490.8,380.5 C493.25,377.02 494.85,373.3 496.9,369.4 C498.95,365.5 501.05,362.03 503.1,357.1 C505.15,352.17 507.35,344.65 509.2,339.8 C511.05,334.95 512.65,331.72 514.2,328 C515.75,324.28 517.12,320.33 518.5,317.5 C519.88,314.67 521.17,312.7 522.5,311 C523.83,309.3 525.18,308.15 526.5,307.3 C527.82,306.45 529.07,305.78 530.4,305.9 C531.73,306.02 533.22,306.75 534.5,308 C535.78,309.25 536.13,309.8 538.1,313.4 C540.07,317 543.58,323 546.3,329.6 C549.02,336.2 551.7,344.7 554.4,353 C557.1,361.3 559.8,371.1 562.5,379.4 C565.2,387.7 567.55,395.87 570.6,402.8 C573.65,409.73 577.4,416.27 580.8,421 C584.2,425.73 587.62,428.82 591,431.2 C594.38,433.58 597.88,434.38 601.1,435.3 C604.32,436.22 608.77,436.47 610.3,436.7" fill="none" stroke="#ff0000" stroke-width="3.0" stroke-linejoin="round" stroke-linecap="round"/>
<text x="407" y="275.9" font-size="14.5" text-anchor="start" fill="#000" stroke="#000" stroke-width="0.15" >(c) La 4p</text>
<rect x="399.6" y="253.6" width="232.4" height="206.2" fill="none" stroke="#000" stroke-width="2.2"/>
<text x="42.8" y="706.7" font-size="11" text-anchor="end" fill="#000" stroke="#000" stroke-width="0.15" >300</text>
<text x="42.8" y="681.87" font-size="11" text-anchor="end" fill="#000" stroke="#000" stroke-width="0.15" >600</text>
<text x="42.8" y="657.04" font-size="11" text-anchor="end" fill="#000" stroke="#000" stroke-width="0.15" >900</text>
<text x="42.8" y="632.2" font-size="11" text-anchor="end" fill="#000" stroke="#000" stroke-width="0.15" >1200</text>
<text x="42.8" y="607.37" font-size="11" text-anchor="end" fill="#000" stroke="#000" stroke-width="0.15" >1500</text>
<text x="42.8" y="582.54" font-size="11" text-anchor="end" fill="#000" stroke="#000" stroke-width="0.15" >1800</text>
<text x="42.8" y="557.71" font-size="11" text-anchor="end" fill="#000" stroke="#000" stroke-width="0.15" >2100</text>
<text x="42.8" y="532.88" font-size="11" text-anchor="end" fill="#000" stroke="#000" stroke-width="0.15" >2400</text>
<line x1="72.99" y1="702.9" x2="72.99" y2="707.1" stroke="#000" stroke-width="2.2" />
<text x="72.99" y="719.8" font-size="11" text-anchor="middle" fill="#000" stroke="#000" stroke-width="0.15" >536</text>
<line x1="115.58" y1="702.9" x2="115.58" y2="707.1" stroke="#000" stroke-width="2.2" />
<text x="115.58" y="719.8" font-size="11" text-anchor="middle" fill="#000" stroke="#000" stroke-width="0.15" >534</text>
<line x1="158.16" y1="702.9" x2="158.16" y2="707.1" stroke="#000" stroke-width="2.2" />
<text x="158.16" y="719.8" font-size="11" text-anchor="middle" fill="#000" stroke="#000" stroke-width="0.15" >532</text>
<line x1="200.75" y1="702.9" x2="200.75" y2="707.1" stroke="#000" stroke-width="2.2" />
<text x="200.75" y="719.8" font-size="11" text-anchor="middle" fill="#000" stroke="#000" stroke-width="0.15" >530</text>
<line x1="243.33" y1="702.9" x2="243.33" y2="707.1" stroke="#000" stroke-width="2.2" />
<text x="243.33" y="719.8" font-size="11" text-anchor="middle" fill="#000" stroke="#000" stroke-width="0.15" >528</text>
<line x1="285.92" y1="702.9" x2="285.92" y2="707.1" stroke="#000" stroke-width="2.2" />
<text x="285.92" y="719.8" font-size="11" text-anchor="middle" fill="#000" stroke="#000" stroke-width="0.15" >526</text>
<line x1="328.5" y1="702.9" x2="328.5" y2="707.1" stroke="#000" stroke-width="2.2" />
<text x="328.5" y="719.8" font-size="11" text-anchor="middle" fill="#000" stroke="#000" stroke-width="0.15" >524</text>
<text x="190.7" y="733" font-size="11" text-anchor="middle" fill="#000" stroke="#000" stroke-width="0.15" >Binding Energy (eV)</text>
<text transform="translate(12.2,613) rotate(-90)" x="0" y="0" font-size="11.0" text-anchor="middle" fill="#000" stroke="#000" stroke-width="0.15">Intensity (CPS)</text>
<path d="M53,686.16 L54.6,687.9 L56.2,683.41 L57.8,688.02 L59.4,684.1 L61,685.27 L62.6,688.31 L64.2,684.13 L65.8,685.1 L67.4,685.92 L69,686.17 L70.6,684 L72.2,685.67 L73.8,682.31 L75.4,684.35 L77,683.33 L78.6,681.96 L80.2,681.9 L81.8,681.47 L83.4,683.7 L85,682.74 L86.6,682.52 L88.2,682.93 L89.8,680.07 L91.4,682.8 L93,681.95 L94.6,682.64 L96.2,679.19 L97.8,680.59 L99.4,676.91 L101,680 L102.6,675.9 L104.2,677.54 L105.8,680.28 L107.4,674.16 L109,679.42 L110.6,674.86 L112.2,673.58 L113.8,673.28 L115.4,671.22 L117,668.4 L118.6,665.75 L120.2,663.76 L121.8,661.24 L123.4,658 L125,657.18 L126.6,652.42 L128.2,653.06 L129.8,644.05 L131.4,643.12 L133,638.13 L134.6,632.31 L136.2,634.1 L137.8,622.84 L139.4,622.37 L141,614.25 L142.6,613.79 L144.2,602.21 L145.8,603.42 L147.4,592.14 L149,589.27 L150.6,581.52 L152.2,578.52 L153.8,568.67 L155.4,566.73 L157,562.19 L158.6,561.37 L160.2,552.26 L161.8,556.44 L163.4,551.67 L165,550.14 L166.6,552.83 L168.2,552.98 L169.8,559.34 L171.4,558.75 L173,563.64 L174.6,568.03 L176.2,573.01 L177.8,578.01 L179.4,582.11 L181,592.17 L182.6,591.03 L184.2,596.35 L185.8,606.28 L187.4,609.3 L189,615.57 L190.6,618.25 L192.2,622.85 L193.8,627.34 L195.4,632.21 L197,633.59 L198.6,638.59 L200.2,645.58 L201.8,645.16 L203.4,646.68 L205,654.3 L206.6,653.74 L208.2,655.96 L209.8,657.78 L211.4,662.75 L213,661.82 L214.6,664.24 L216.2,665.32 L217.8,668.48 L219.4,672.21 L221,670.38 L222.6,671.43 L224.2,676.74 L225.8,675.77 L227.4,679.05 L229,679.92 L230.6,678.6 L232.2,680.33 L233.8,681.07 L235.4,680.11 L237,684.59 L238.6,685.28 L240.2,684.06 L241.8,684.76 L243.4,685.33 L245,684.98 L246.6,685.7 L248.2,686.69 L249.8,686.12 L251.4,687.47 L253,685.5 L254.6,685 L256.2,688.16 L257.8,687.02 L259.4,685.76 L261,690.27 L262.6,684.5 L264.2,687.55 L265.8,689.13 L267.4,688.47 L269,690.8 L270.6,687.37 L272.2,691.81 L273.8,688.1 L275.4,686 L277,688.82 L278.6,689.32 L280.2,687.05 L281.8,689.19 L283.4,689.17 L285,690.73 L286.6,689.49 L288.2,688.34 L289.8,690.61 L291.4,690.79 L293,688.81 L294.6,689.01 L296.2,689.01 L297.8,691.04 L299.4,686.5 L301,687.8 L302.6,690.72 L304.2,688.25 L305.8,688.64 L307.4,691.85 L309,690.01 L310.6,685.5 L312.2,690.06 L313.8,690.05 L315.4,688.11 L317,689.65 L318.6,690.42 L320.2,686.13 L321.8,691.09 L323.4,689.98 L325,689.95 L326.6,686.83" fill="none" stroke="#808080" stroke-width="2.6" stroke-linejoin="round"/>
<path d="M52.1,690.5 C58.67,690.58 80.18,690.88 91.5,691 C102.82,691.12 111.37,691.1 120,691.2 C128.63,691.3 136.63,691.3 143.3,691.6 C149.97,691.9 154.72,692.52 160,693 C165.28,693.48 170,694.12 175,694.5 C180,694.88 184.17,695.05 190,695.3 C195.83,695.55 201.67,695.8 210,696 C218.33,696.2 230,696.33 240,696.5 C250,696.67 255.33,696.88 270,697 C284.67,697.12 318.33,697.17 328,697.2" fill="none" stroke="#008000" stroke-width="2.3" stroke-linejoin="round" stroke-linecap="round"/>
<path d="M52.1,690.5 C58.67,690.58 80.18,690.92 91.5,691 C102.82,691.08 111.37,690.98 120,691 C128.63,691.02 136.63,691.13 143.3,691.1 C149.97,691.07 155.88,691.05 160,690.8 C164.12,690.55 165.37,690.17 168,689.6 C170.63,689.03 173.3,688.2 175.8,687.4 C178.3,686.6 180.63,685.6 183,684.8 C185.37,684 187.8,683.32 190,682.6 C192.2,681.88 193.95,681.07 196.2,680.5 C198.45,679.93 201.05,679.2 203.5,679.2 C205.95,679.2 208.63,679.67 210.9,680.5 C213.17,681.33 214.83,682.77 217.1,684.2 C219.37,685.63 221.83,687.77 224.5,689.1 C227.17,690.43 229.62,691.28 233.1,692.2 C236.58,693.12 241.3,694 245.4,694.6 C249.5,695.2 253.6,695.48 257.7,695.8 C261.8,696.12 262.95,696.28 270,696.5 C277.05,696.72 290.33,696.92 300,697.1 C309.67,697.28 323.33,697.52 328,697.6" fill="none" stroke="#ff0000" stroke-width="2.4" stroke-linejoin="round" stroke-linecap="round"/>
<path d="M52.1,687.8 C54.05,687.63 59.53,687.15 63.8,686.8 C68.07,686.45 73.08,686.23 77.7,685.7 C82.32,685.17 87.35,684.42 91.5,683.6 C95.65,682.78 99.52,681.82 102.6,680.8 C105.68,679.78 107.5,679.32 110,677.5 C112.5,675.68 115.08,673.05 117.6,669.9 C120.12,666.75 122.9,662.38 125.1,658.6 C127.3,654.82 128.9,651.62 130.8,647.2 C132.7,642.78 134.77,637.15 136.5,632.1 C138.23,627.05 139.62,621.95 141.2,616.9 C142.78,611.85 144.42,607.15 146,601.8 C147.58,596.45 149.13,590.17 150.7,584.8 C152.27,579.43 153.82,573.72 155.4,569.6 C156.98,565.48 158.78,562.3 160.2,560.1 C161.62,557.9 162.35,555.92 163.9,556.4 C165.45,556.88 167.78,559.85 169.5,563 C171.22,566.15 172.63,570.73 174.2,575.3 C175.77,579.87 177.32,585.03 178.9,590.4 C180.48,595.77 182.12,601.82 183.7,607.5 C185.28,613.18 186.93,619.33 188.4,624.5 C189.87,629.67 191.42,635.12 192.5,638.5 C193.58,641.88 193.68,641.7 194.9,644.8 C196.12,647.9 198.15,653.2 199.8,657.1 C201.45,661 203.15,664.92 204.8,668.2 C206.45,671.48 208.07,674.55 209.7,676.8 C211.33,679.05 212.55,680.07 214.6,681.7 C216.65,683.33 218.92,685.17 222,686.6 C225.08,688.03 229.2,689.37 233.1,690.3 C237,691.23 239.25,691.68 245.4,692.2 C251.55,692.72 260.9,693.02 270,693.4 C279.1,693.78 290.33,694.2 300,694.5 C309.67,694.8 323.33,695.08 328,695.2" fill="none" stroke="#0000ff" stroke-width="2.6" stroke-linejoin="round" stroke-linecap="round"/>
<path d="M52.1,687.3 C54.05,687.13 59.53,686.65 63.8,686.3 C68.07,685.95 73.08,685.73 77.7,685.2 C82.32,684.67 87.35,683.92 91.5,683.1 C95.65,682.28 99.52,681.32 102.6,680.3 C105.68,679.28 107.5,678.82 110,677 C112.5,675.18 115.08,672.55 117.6,669.4 C120.12,666.25 122.9,661.88 125.1,658.1 C127.3,654.32 128.9,651.12 130.8,646.7 C132.7,642.28 134.77,636.65 136.5,631.6 C138.23,626.55 139.62,621.47 141.2,616.4 C142.78,611.33 144.42,606.63 146,601.2 C147.58,595.77 149.13,589.4 150.7,583.8 C152.27,578.2 153.82,572.07 155.4,567.6 C156.98,563.13 158.67,559.5 160.2,557 C161.73,554.5 163.3,552.9 164.6,552.6 C165.9,552.3 166.87,553.8 168,555.2 C169.13,556.6 169.9,557.33 171.4,561 C172.9,564.67 175.12,571.35 177,577.2 C178.88,583.05 180.8,589.88 182.7,596.1 C184.6,602.32 186.43,608.85 188.4,614.5 C190.37,620.15 192.6,625.25 194.5,630 C196.4,634.75 198.08,639.3 199.8,643 C201.52,646.7 203.15,649.23 204.8,652.2 C206.45,655.17 208.07,658.35 209.7,660.8 C211.33,663.25 212.75,664.85 214.6,666.9 C216.45,668.95 218.75,671.15 220.8,673.1 C222.85,675.05 224.23,676.75 226.9,678.6 C229.57,680.45 233.72,682.67 236.8,684.2 C239.88,685.73 241.92,686.78 245.4,687.8 C248.88,688.82 253.6,689.78 257.7,690.3 C261.8,690.82 262.95,690.78 270,690.9 C277.05,691.02 290.33,691.02 300,691 C309.67,690.98 323.33,690.83 328,690.8" fill="none" stroke="#000000" stroke-width="3.0" stroke-linejoin="round" stroke-linecap="round"/>
<path d="M52.1,687.8 C54.05,687.63 59.53,687.15 63.8,686.8 C68.07,686.45 73.08,686.23 77.7,685.7 C82.32,685.17 87.35,684.42 91.5,683.6 C95.65,682.78 99.52,681.82 102.6,680.8 C105.68,679.78 107.5,679.32 110,677.5 C112.5,675.68 115.08,673.05 117.6,669.9 C120.12,666.75 122.9,662.38 125.1,658.6 C127.3,654.82 128.9,651.62 130.8,647.2 C132.7,642.78 134.77,637.15 136.5,632.1 C138.23,627.05 139.62,621.95 141.2,616.9 C142.78,611.85 144.42,607.15 146,601.8 C147.58,596.45 149.13,590.17 150.7,584.8 C152.27,579.43 153.82,573.72 155.4,569.6 C156.98,565.48 159.4,561.68 160.2,560.1" fill="none" stroke="#0000ff" stroke-width="3.0" stroke-linejoin="round" stroke-linecap="round"/>
<path d="M195.2,572 L188.7,572 L181.2,598.4" fill="none" stroke="#7f7f7f" stroke-width="0.9"/>
<path d="M168.2,666.6 L195.2,680.7" fill="none" stroke="#7f7f7f" stroke-width="0.9"/>
<text x="62.5" y="548.1" font-size="14.5" text-anchor="start" fill="#000" stroke="#000" stroke-width="0.15" >(d) O 1s</text>
<text x="198.5" y="577.8" font-size="14.5" text-anchor="start" fill="#1c1cc0" stroke="#1c1cc0" stroke-width="0.15" >-COO-La</text>
<text x="143.2" y="662.2" font-size="14.5" text-anchor="start" fill="#e00000" stroke="#e00000" stroke-width="0.15" >-COOH</text>
<rect x="51.7" y="520.8" width="276.8" height="182.1" fill="none" stroke="#000" stroke-width="2.2"/>
<text x="387.6" y="700.3" font-size="11" text-anchor="end" fill="#000" stroke="#000" stroke-width="0.15" >200</text>
<text x="387.6" y="675.81" font-size="11" text-anchor="end" fill="#000" stroke="#000" stroke-width="0.15" >350</text>
<text x="387.6" y="651.32" font-size="11" text-anchor="end" fill="#000" stroke="#000" stroke-width="0.15" >500</text>
<text x="387.6" y="626.83" font-size="11" text-anchor="end" fill="#000" stroke="#000" stroke-width="0.15" >650</text>
<text x="387.6" y="602.34" font-size="11" text-anchor="end" fill="#000" stroke="#000" stroke-width="0.15" >800</text>
<text x="387.6" y="577.85" font-size="11" text-anchor="end" fill="#000" stroke="#000" stroke-width="0.15" >950</text>
<text x="387.6" y="553.35" font-size="11" text-anchor="end" fill="#000" stroke="#000" stroke-width="0.15" >1100</text>
<text x="387.6" y="528.86" font-size="11" text-anchor="end" fill="#000" stroke="#000" stroke-width="0.15" >1250</text>
<line x1="397.2" y1="696.5" x2="397.2" y2="700.7" stroke="#000" stroke-width="2.2" />
<text x="397.2" y="713" font-size="11" text-anchor="middle" fill="#000" stroke="#000" stroke-width="0.15" >293</text>
<line x1="436.53" y1="696.5" x2="436.53" y2="700.7" stroke="#000" stroke-width="2.2" />
<text x="436.53" y="713" font-size="11" text-anchor="middle" fill="#000" stroke="#000" stroke-width="0.15" >291</text>
<line x1="475.87" y1="696.5" x2="475.87" y2="700.7" stroke="#000" stroke-width="2.2" />
<text x="475.87" y="713" font-size="11" text-anchor="middle" fill="#000" stroke="#000" stroke-width="0.15" >289</text>
<line x1="515.2" y1="696.5" x2="515.2" y2="700.7" stroke="#000" stroke-width="2.2" />
<text x="515.2" y="713" font-size="11" text-anchor="middle" fill="#000" stroke="#000" stroke-width="0.15" >287</text>
<line x1="554.53" y1="696.5" x2="554.53" y2="700.7" stroke="#000" stroke-width="2.2" />
<text x="554.53" y="713" font-size="11" text-anchor="middle" fill="#000" stroke="#000" stroke-width="0.15" >285</text>
<line x1="593.87" y1="696.5" x2="593.87" y2="700.7" stroke="#000" stroke-width="2.2" />
<text x="593.87" y="713" font-size="11" text-anchor="middle" fill="#000" stroke="#000" stroke-width="0.15" >283</text>
<line x1="633.2" y1="696.5" x2="633.2" y2="700.7" stroke="#000" stroke-width="2.2" />
<text x="633.2" y="713" font-size="11" text-anchor="middle" fill="#000" stroke="#000" stroke-width="0.15" >281</text>
<text x="514.4" y="729.5" font-size="11" text-anchor="middle" fill="#000" stroke="#000" stroke-width="0.15" >Binding Energy (eV)</text>
<text transform="translate(365.2,613.5) rotate(-90)" x="0" y="0" font-size="11.0" text-anchor="middle" fill="#000" stroke="#000" stroke-width="0.15">Intensity (CPS)</text>
<path d="M397.5,661 L399.46,672.87 L401.42,676.07 L403.38,676.31 L405.34,674.69 L407.3,670.23 L409.26,672.15 L411.22,669.27 L413.18,665.33 L415.14,669.42 L417.1,674.21 L419.06,670.17 L421.02,668.43 L422.98,665.51 L424.94,669.78 L426.9,666.65 L428.86,669.51 L430.82,670.45 L432.78,660.73 L434.74,669.53 L436.7,661.28 L438.66,664.61 L440.62,662.15 L442.58,671.65 L444.54,667.22 L446.5,661 L448.46,660.6 L450.42,657.75 L452.38,661.26 L454.34,661.34 L456.3,658.37 L458.26,660.05 L460.22,653.19 L462.18,660.64 L464.14,651.87 L466.1,655.8 L468.06,644.95 L470.02,643.21 L471.98,636.69 L473.94,638.58 L475.9,632.5 L477.86,624.81 L479.82,623.45 L481.78,617.89 L483.74,616.09 L485.7,615.5 L487.66,608.65 L489.62,614.28 L491.58,619.33 L493.54,621.39 L495.5,628.61 L497.46,629.35 L499.42,631.79 L501.38,632.46 L503.34,626.78 L505.3,637.96 L507.26,633.23 L509.22,641.12 L511.18,637.25 L513.14,638.24 L515.1,637.28 L517.06,638.21 L519.02,630.87 L520.98,632.23 L522.94,641.04 L524.9,632.77 L526.86,626.68 L528.82,623.18 L530.78,618.04 L532.74,621.51 L534.7,607.23 L536.66,601.15 L538.62,591.69 L540.58,580.37 L542.54,583.62 L544.5,579.35 L546.46,569.12 L548.42,558.53 L550.38,547.82 L552.34,540.33 L554.3,540.98 L556.26,534.35 L558.22,530.4 L560.18,542.17 L562.14,530.26 L564.1,537.45 L566.06,535.95 L568.02,556.74 L569.98,552.39 L571.94,560.96 L573.9,567.94 L575.86,568.94 L577.82,576.19 L579.78,584.67 L581.74,584.34 L583.7,594.91 L585.66,602.26 L587.62,604.76 L589.58,612.64 L591.54,615.07 L593.5,622.34 L595.46,619.66 L597.42,625.29 L599.38,622.41 L601.34,631.05 L603.3,631.19 L605.26,637.67 L607.22,636.05 L609.18,645.43 L611.14,653.55 L613.1,643.3 L615.06,654.34 L617.02,654.99 L618.98,651.59 L620.94,655.96 L622.9,655.72 L624.86,661.02 L626.82,656.59 L628.78,667.77 L630.74,661.83" fill="none" stroke="#808080" stroke-width="2.9" stroke-linejoin="round"/>
<path d="M397.1,679.3 C404.57,679.37 429.75,679.62 441.9,679.7 C454.05,679.78 457.65,679.6 470,679.8 C482.35,680 504.5,680.52 516,680.9 C527.5,681.28 532.5,681.72 539,682.1 C545.5,682.48 549.83,682.82 555,683.2 C560.17,683.58 562.5,683.85 570,684.4 C577.5,684.95 589.6,685.9 600,686.5 C610.4,687.1 627,687.75 632.4,688" fill="none" stroke="#008000" stroke-width="2.6" stroke-linejoin="round" stroke-linecap="round"/>
<path d="M397.1,679 C409.25,678.93 454.02,678.55 470,678.6 C485.98,678.65 485.33,679.37 493,679.3 C500.67,679.23 510.25,678.88 516,678.2 C521.75,677.52 523.67,676.67 527.5,675.2 C531.33,673.73 535.17,671.9 539,669.4 C542.83,666.9 546.62,663.73 550.5,660.2 C554.38,656.67 559.12,651.27 562.3,648.2 C565.48,645.13 566.75,643.28 569.6,641.8 C572.45,640.32 576.15,639.1 579.4,639.3 C582.65,639.5 585.87,640.97 589.1,643 C592.33,645.03 595.55,648.45 598.8,651.5 C602.05,654.55 605.35,658.25 608.6,661.3 C611.85,664.35 615.05,667.17 618.3,669.8 C621.55,672.43 625.75,675.48 628.1,677.1 C630.45,678.72 631.68,679.1 632.4,679.5" fill="none" stroke="#ff0000" stroke-width="2.5" stroke-linejoin="round" stroke-linecap="round"/>
<path d="M397.1,678.1 C404.57,677.78 429.75,677.07 441.9,676.2 C454.05,675.33 463.4,673.65 470,672.9 C476.6,672.15 477.67,672.28 481.5,671.7 C485.33,671.12 489.17,670.55 493,669.4 C496.83,668.25 501.33,666.28 504.5,664.8 C507.67,663.32 509.42,662.03 512,660.5 C514.58,658.97 517.83,657.77 520,655.6 C522.17,653.43 523.42,650.65 525,647.5 C526.58,644.35 528.08,640.37 529.5,636.7 C530.92,633.03 532.25,629.28 533.5,625.5 C534.75,621.72 535.75,618.08 537,614 C538.25,609.92 539.73,605.1 541,601 C542.27,596.9 543.43,592.65 544.6,589.4 C545.77,586.15 546.9,583.57 548,581.5 C549.1,579.43 550.12,578.17 551.2,577 C552.28,575.83 553.38,575.03 554.5,574.5 C555.62,573.97 556.82,573.63 557.9,573.8 C558.98,573.97 559.9,574.48 561,575.5 C562.1,576.52 563.42,577.98 564.5,579.9 C565.58,581.82 566.55,584.17 567.5,587 C568.45,589.83 568.97,592.08 570.2,596.9 C571.43,601.72 573.48,609.58 574.9,615.9 C576.32,622.22 577.52,630.03 578.7,634.8 C579.88,639.57 580.27,640.5 582,644.5 C583.73,648.5 586.3,654.78 589.1,658.8 C591.9,662.82 595.15,665.95 598.8,668.6 C602.45,671.25 606.93,673.08 611,674.7 C615.07,676.32 619.63,677.3 623.2,678.3 C626.77,679.3 630.87,680.3 632.4,680.7" fill="none" stroke="#0000ff" stroke-width="2.4" stroke-linejoin="round" stroke-linecap="round"/>
<path d="M397.1,677 C402.57,676.78 422.38,676.23 429.9,675.7 C437.42,675.17 438.5,674.62 442.2,673.8 C445.9,672.98 449.02,672.33 452.1,670.8 C455.18,669.27 458.25,666.87 460.7,664.6 C463.15,662.33 464.75,660.48 466.8,657.2 C468.85,653.92 471.22,648.35 473,644.9 C474.78,641.45 475.9,639.12 477.5,636.5 C479.1,633.88 480.98,630.68 482.6,629.2 C484.22,627.72 485.47,627.03 487.2,627.6 C488.93,628.17 491.08,629.85 493,632.6 C494.92,635.35 496.78,640.27 498.7,644.1 C500.62,647.93 502.38,652.15 504.5,655.6 C506.62,659.05 508.72,662.12 511.4,664.8 C514.08,667.48 517.15,669.78 520.6,671.7 C524.05,673.62 527.88,674.95 532.1,676.3 C536.32,677.65 540.92,678.83 545.9,679.8 C550.88,680.77 556.42,681.5 562,682.1 C567.58,682.7 572.45,682.82 579.4,683.4 C586.35,683.98 594.87,685.03 603.7,685.6 C612.53,686.17 627.62,686.6 632.4,686.8" fill="none" stroke="#cc00cc" stroke-width="2.7" stroke-linejoin="round" stroke-linecap="round"/>
<path d="M397.1,673.8 C400.52,673.6 411.1,673.2 417.6,672.6 C424.1,672 430.97,671.22 436.1,670.2 C441.23,669.18 444.72,668.25 448.4,666.5 C452.08,664.75 455.13,662.48 458.2,659.7 C461.27,656.92 464.53,652.88 466.8,649.8 C469.07,646.72 470.12,644.92 471.8,641.2 C473.48,637.48 475.1,631.15 476.9,627.5 C478.7,623.85 480.77,621.05 482.6,619.3 C484.43,617.55 486.17,616.7 487.9,617 C489.63,617.3 491.2,618.88 493,621.1 C494.8,623.32 496.78,627.8 498.7,630.3 C500.62,632.8 502.58,634.57 504.5,636.1 C506.42,637.63 508.28,638.85 510.2,639.5 C512.12,640.15 514.2,640.25 516,640 C517.8,639.75 519.42,639.33 521,638 C522.58,636.67 524.08,634.43 525.5,632 C526.92,629.57 528.17,626.65 529.5,623.4 C530.83,620.15 532.25,616.28 533.5,612.5 C534.75,608.72 535.83,604.62 537,600.7 C538.17,596.78 539.38,592.78 540.5,589 C541.62,585.22 542.62,582 543.7,578 C544.78,574 545.9,569.42 547,565 C548.1,560.58 548.97,555.8 550.3,551.5 C551.63,547.2 553.58,541.88 555,539.2 C556.42,536.52 557.38,535.55 558.8,535.4 C560.22,535.25 561.77,535.3 563.5,538.3 C565.23,541.3 566.98,547.1 569.2,553.4 C571.42,559.7 574.1,568.68 576.8,576.1 C579.5,583.52 582.95,591.83 585.4,597.9 C587.85,603.97 589.47,608.03 591.5,612.5 C593.53,616.97 595.57,620.83 597.6,624.7 C599.63,628.57 601.47,632.05 603.7,635.7 C605.93,639.35 608.57,643.35 611,646.6 C613.43,649.85 615.87,652.97 618.3,655.2 C620.73,657.43 623.25,658.92 625.6,660 C627.95,661.08 631.27,661.42 632.4,661.7" fill="none" stroke="#000000" stroke-width="2.7" stroke-linejoin="round" stroke-linecap="round"/>
<path d="M539.5,555.4 L546.3,555.4 L556,574.5" fill="none" stroke="#7f7f7f" stroke-width="0.9"/>
<text x="405.9" y="540.3" font-size="14.5" text-anchor="start" fill="#000" stroke="#000" stroke-width="0.15" >(e) C 1s</text>
<text x="433.8" y="618.4" font-size="14.5" text-anchor="start" fill="#b400b4" stroke="#b400b4" stroke-width="0.15" >O-C=O</text>
<text x="494.8" y="560.9" font-size="14.5" text-anchor="start" fill="#1c1cc0" stroke="#1c1cc0" stroke-width="0.15" >-C=C-</text>
<text x="542.2" y="633.6" font-size="14.5" text-anchor="start" fill="#e00000" stroke="#e00000" stroke-width="0.15" >-C-C-</text>
<rect x="397.2" y="516.9" width="236" height="179.6" fill="none" stroke="#000" stroke-width="2.2"/>
</svg>
</body></html>
